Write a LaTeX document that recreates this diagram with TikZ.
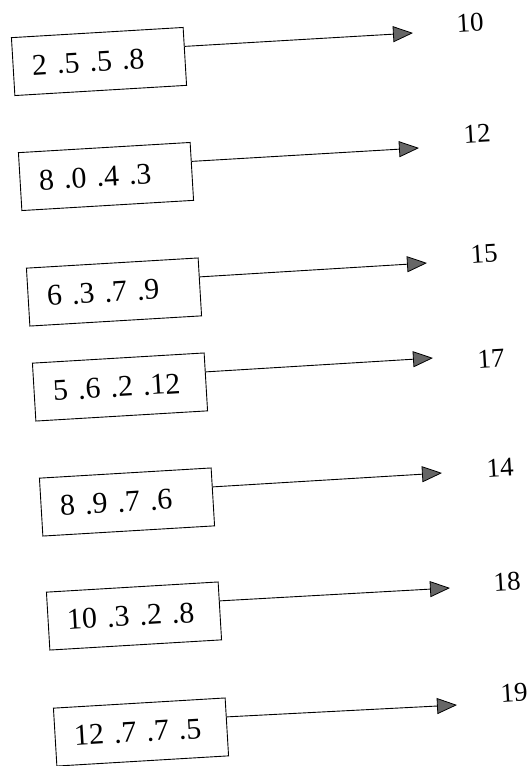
\documentclass[tikz,border=0pt]{standalone}
\usepackage{fontspec}
\setmainfont{Liberation Serif}
\usetikzlibrary{arrows.meta,calc}
\tikzset{
  valbox/.style={draw=black, line width=0.9pt, rotate=3.4, minimum height=58pt,
    text width=134pt, inner xsep=19pt, align=left,
    font={\fontsize{30}{34}\selectfont\spaceskip=0.55em\relax}},
  sumlabel/.style={rotate=3.4, inner sep=0pt, font={\fontsize{27}{32}\selectfont}},
  conn/.style={line width=0.9pt, -{Triangle[length=20pt,width=16pt,fill=black!60,line width=0.8pt]}}
}
\begin{document}
\begin{tikzpicture}[x=1pt,y=-1pt]
\useasboundingbox (0,0) rectangle (531,766);
\node[valbox] (b1) at (99,61.5) {2 .5 .5 .8};
\node[valbox] (b2) at (106,176.5) {8 .0 .4 .3};
\node[valbox] (b3) at (114,292) {6 .3 .7 .9};
\node[valbox] (b4) at (120,387) {5 .6 .2 .12};
\node[valbox] (b5) at (127,502) {8 .9 .7 .6};
\node[valbox] (b6) at (134,616) {10 .3 .2 .8};
\node[valbox] (b7) at (141,732) {12 .7 .7 .5};
\coordinate (t1) at (413,33);
\coordinate (t2) at (419,148);
\coordinate (t3) at (427,263);
\coordinate (t4) at (433,358);
\coordinate (t5) at (442,473);
\coordinate (t6) at (450,588);
\coordinate (t7) at (457,705);
\foreach \i in {1,...,7}{
  \draw[conn] ($(b\i.north east)!0.33!(b\i.south east)$) -- (t\i);
}
\node[sumlabel] (l1) at (470,22.5) {10};
\node[sumlabel] (l2) at (477,134) {12};
\node[sumlabel] (l3) at (484,254) {15};
\node[sumlabel] (l4) at (491,359) {17};
\node[sumlabel] (l5) at (500,468) {14};
\node[sumlabel] (l6) at (507,582) {18};
\node[sumlabel] (l7) at (514,693) {19};
\end{tikzpicture}
\end{document}
